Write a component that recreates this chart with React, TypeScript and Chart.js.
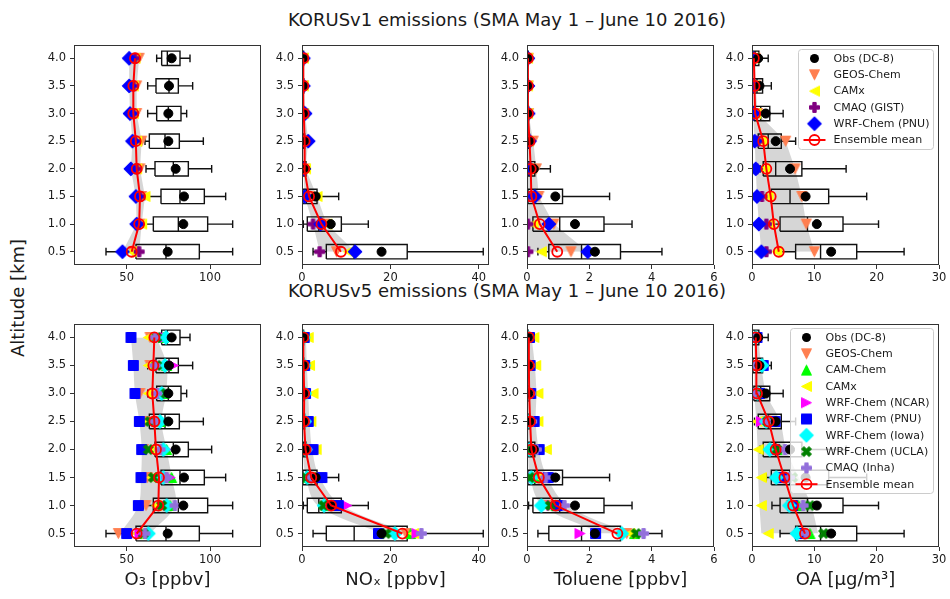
import React, { useEffect, useRef } from "react";
import { Chart, registerables } from "chart.js";

Chart.register(...registerables);

// ---------- altitude bins and tick labels ----------
const ALTITUDES = [0.5, 1.0, 1.5, 2.0, 2.5, 3.0, 3.5, 4.0];
const ALT_TICKS = [0.5, 1.0, 1.5, 2.0, 2.5, 3.0, 3.5, 4.0];
const O3_TICKS = [50, 100];
const NOX_TICKS = [0, 20, 40];
const TOL_TICKS = [0, 2, 4, 6];
const OA_TICKS = [0, 10, 20, 30];

// ---------- DC-8 observations (whisker ends, quartiles, median, mean) ----------
const OBS_O3_MIN = [37.6, 60, 61, 61.6, 61, 62.6, 62.6, 68];
const OBS_O3_Q1 = [55.6, 66, 70.6, 67, 63.6, 68, 67.6, 71];
const OBS_O3_MED = [73.6, 81, 82, 78, 73, 75, 75.4, 74.4];
const OBS_O3_Q3 = [93.6, 98.6, 96.6, 87, 81.6, 82.6, 81, 82];
const OBS_O3_MAX = [113.6, 113.6, 109.4, 101, 96, 86, 89.6, 88];
const OBS_O3_MEAN = [74.6, 84, 84.4, 79.4, 75, 75, 75.4, 77];

const OBS_NOX_MIN = [2.5, 0.3, 0.05, 0.05, 0.03, 0.02, 0.02, 0.02];
const OBS_NOX_Q1 = [5.5, 1.2, 0.2, 0.15, 0.1, 0.08, 0.08, 0.07];
const OBS_NOX_MED = [11.8, 3.8, 1.0, 0.4, 0.3, 0.2, 0.2, 0.15];
const OBS_NOX_Q3 = [23.8, 8.9, 3.4, 0.9, 0.6, 0.45, 0.4, 0.35];
const OBS_NOX_MAX = [41, 15, 8.3, 1.6, 1.2, 0.9, 0.8, 0.7];
const OBS_NOX_MEAN = [18, 6.5, 3.1, 0.75, 0.5, 0.35, 0.3, 0.3];

const OBS_TOL_MIN = [0.35, 0.05, 0.01, 0.005, 0.003, 0.002, 0.002, 0.002];
const OBS_TOL_Q1 = [0.7, 0.19, 0.03, 0.03, 0.01, 0.01, 0.01, 0.01];
const OBS_TOL_MED = [1.75, 1.05, 0.25, 0.1, 0.03, 0.02, 0.02, 0.02];
const OBS_TOL_Q3 = [3.0, 2.47, 1.14, 0.25, 0.08, 0.05, 0.04, 0.04];
const OBS_TOL_MAX = [4.33, 3.37, 2.65, 0.75, 0.2, 0.12, 0.1, 0.08];
const OBS_TOL_MEAN = [2.18, 1.54, 0.91, 0.22, 0.08, 0.04, 0.04, 0.03];

const OBS_OA_MIN = [4.5, 3.2, 2.3, 1.3, 0.4, 0.05, 0.05, 0.03];
const OBS_OA_Q1 = [7.0, 4.5, 3.1, 1.8, 1.0, 0.3, 0.16, 0.05];
const OBS_OA_MED = [11.0, 8.9, 6.1, 3.8, 2.6, 1.4, 0.8, 0.5];
const OBS_OA_Q3 = [16.8, 14.6, 12.3, 8.0, 4.7, 2.85, 1.7, 1.1];
const OBS_OA_MAX = [24.4, 20.3, 18.4, 15.1, 7.0, 5.0, 3.1, 2.6];
const OBS_OA_MEAN = [12.7, 10.4, 8.6, 6.1, 3.8, 2.2, 1.2, 1.0];

// ---------- KORUSv1 model profiles ----------
const V1_O3_GEOS = [54, 58, 59, 58, 59, 56, 56, 57.5];
const V1_O3_CAMX = [53, 59, 61, 56, 56, 54, 54, 55];
const V1_O3_GIST = [57.5, 57, 58, 56, 55, 54, 54, 55];
const V1_O3_PNU = [47.5, 56, 55.5, 52.5, 53.5, 52, 51.5, 51.5];
const V1_O3_ENS = [53, 57.5, 58, 56, 55.5, 54, 54, 55];
const V1_O3_LO = [47.5, 56, 55.5, 52.5, 53.5, 52, 51.5, 51.5];
const V1_O3_HI = [57.5, 59, 61, 58, 59, 56, 56, 57.5];

const V1_NOX_GEOS = [7.8, 5.1, 1.7, 0.6, 0.4, 0.3, 0.3, 0.3];
const V1_NOX_CAMX = [10.5, 5.6, 3.4, 0.8, 0.6, 0.4, 0.3, 0.3];
const V1_NOX_GIST = [4.0, 2.5, 1.2, 0.3, 0.2, 0.1, 0.1, 0.1];
const V1_NOX_PNU = [12.0, 4.2, 0.6, 0.4, 1.4, 0.7, 0.3, 0.3];
const V1_NOX_ENS = [8.8, 4.4, 1.6, 0.5, 0.6, 0.4, 0.3, 0.3];
const V1_NOX_LO = [4.0, 2.5, 0.6, 0.3, 0.2, 0.1, 0.1, 0.1];
const V1_NOX_HI = [12.0, 5.6, 3.4, 0.8, 1.4, 0.7, 0.3, 0.3];

const V1_TOL_GEOS = [1.41, 0.86, 0.38, 0.3, 0.2, 0.05, 0.04, 0.04];
const V1_TOL_CAMX = [0.46, 0.2, 0.09, 0.05, 0.03, 0.02, 0.02, 0.02];
const V1_TOL_GIST = [0.03, 0.03, 0.03, 0.02, 0.02, 0.01, 0.01, 0.01];
const V1_TOL_PNU = [1.95, 0.7, 0.25, 0.1, 0.08, 0.04, 0.03, 0.03];
const V1_TOL_ENS = [0.97, 0.41, 0.14, 0.12, 0.08, 0.03, 0.03, 0.03];
const V1_TOL_LO = [0.03, 0.03, 0.03, 0.02, 0.02, 0.01, 0.01, 0.01];
const V1_TOL_HI = [1.95, 0.86, 0.38, 0.3, 0.2, 0.05, 0.04, 0.04];

const V1_OA_GEOS = [10.0, 8.7, 8.0, 6.9, 5.4, 0.9, 0.6, 0.5];
const V1_OA_CAMX = [4.0, 2.85, 2.6, 2.0, 1.5, 0.6, 0.4, 0.3];
const V1_OA_GIST = [2.3, 2.3, 1.6, 0.7, 1.0, 0.5, 0.3, 0.2];
const V1_OA_PNU = [1.5, 1.1, 0.8, 0.6, 0.43, 0.16, 0.2, 0.15];
const V1_OA_ENS = [4.3, 3.5, 3.0, 2.3, 1.8, 0.5, 0.4, 0.3];
const V1_OA_LO = [1.5, 1.1, 0.8, 0.6, 0.43, 0.16, 0.2, 0.15];
const V1_OA_HI = [10.0, 8.7, 8.0, 6.9, 5.4, 0.9, 0.6, 0.5];

// ---------- KORUSv5 model profiles ----------
const V5_O3_GEOS = [45, 61.6, 62.4, 60, 61, 58, 64, 64];
const V5_O3_CAMCHEM = [59, 76, 77, 74, 70, 72, 74, 72];
const V5_O3_CAMX = [56.4, 68, 65, 64, 63, 63, 63, 63];
const V5_O3_NCAR = [58, 75, 76, 73.6, 70, 72, 78, 73];
const V5_O3_PNU = [50, 57, 58.6, 59, 57.6, 55, 54, 52.6];
const V5_O3_IOWA = [63, 74, 72, 72, 70, 71, 73, 73.6];
const V5_O3_UCLA = [60, 71, 66, 63, 64, 73.6, 68, 68];
const V5_O3_INHA = [61, 79, 74, 70, 67, 68, 67, 67];
const V5_O3_ENS = [56, 69, 69.4, 67.6, 66.6, 65.4, 66, 66.6];
const V5_O3_LO = [46, 57, 58.6, 59, 57.6, 55, 54, 52.6];
const V5_O3_HI = [64, 79, 77, 74, 71, 73.6, 74, 68];

const V5_NOX_GEOS = [23.5, 7.0, 2.5, 1.0, 0.6, 0.5, 0.4, 0.5];
const V5_NOX_CAMCHEM = [24.6, 5.5, 1.5, 0.8, 0.5, 0.4, 0.3, 0.3];
const V5_NOX_CAMX = [25.2, 6.0, 2.0, 3.2, 2.0, 2.5, 1.7, 1.4];
const V5_NOX_NCAR = [26.0, 10.1, 2.5, 1.2, 0.8, 0.6, 0.5, 0.4];
const V5_NOX_PNU = [17.3, 8.2, 4.5, 2.5, 1.4, 0.8, 0.6, 0.5];
const V5_NOX_IOWA = [21.0, 5.0, 1.2, 0.8, 0.6, 0.6, 0.4, 0.3];
const V5_NOX_UCLA = [19.0, 4.9, 0.8, 0.6, 0.4, 0.3, 0.3, 0.3];
const V5_NOX_INHA = [27.0, 6.5, 2.0, 1.0, 0.6, 0.5, 0.4, 0.3];
const V5_NOX_ENS = [22.7, 6.6, 2.1, 0.8, 0.45, 0.5, 0.35, 0.3];
const V5_NOX_LO = [18, 3.6, 0.9, 0.2, 0.1, 0.05, 0.05, 0.05];
const V5_NOX_HI = [24.5, 9, 4, 2.3, 1.7, 1.4, 1.1, 0.9];

const V5_TOL_GEOS = [3.2, 0.7, 0.3, 0.2, 0.1, 0.08, 0.06, 0.05];
const V5_TOL_CAMCHEM = [3.45, 0.95, 0.3, 0.15, 0.1, 0.06, 0.05, 0.04];
const V5_TOL_CAMX = [3.3, 1.0, 0.4, 0.62, 0.35, 0.35, 0.28, 0.22];
const V5_TOL_NCAR = [1.7, 0.8, 0.2, 0.1, 0.05, 0.04, 0.03, 0.03];
const V5_TOL_PNU = [2.2, 1.0, 0.68, 0.39, 0.23, 0.12, 0.1, 0.08];
const V5_TOL_IOWA = [3.04, 0.46, 0.14, 0.08, 0.05, 0.04, 0.03, 0.03];
const V5_TOL_UCLA = [3.5, 0.75, 0.09, 0.06, 0.04, 0.03, 0.02, 0.02];
const V5_TOL_INHA = [3.74, 1.2, 0.6, 0.3, 0.15, 0.1, 0.08, 0.06];
const V5_TOL_ENS = [2.9, 0.92, 0.38, 0.14, 0.1, 0.07, 0.06, 0.06];
const V5_TOL_LO = [2.4, 0.5, 0.1, 0.04, 0.02, 0.02, 0.01, 0.01];
const V5_TOL_HI = [3.3, 1.3, 0.65, 0.38, 0.28, 0.3, 0.25, 0.15];

const V5_OA_GEOS = [8.0, 6.3, 4.5, 3.3, 2.5, 0.7, 0.6, 0.5];
const V5_OA_CAMCHEM = [9.3, 7.5, 5.5, 4.0, 2.8, 1.0, 0.8, 0.6];
const V5_OA_CAMX = [2.6, 1.5, 1.5, 1.0, 0.8, 0.5, 0.4, 0.3];
const V5_OA_NCAR = [8.3, 7.0, 5.0, 4.7, 1.5, 0.6, 0.5, 0.4];
const V5_OA_PNU = [7.7, 6.5, 4.7, 3.6, 3.7, 1.2, 1.8, 0.8];
const V5_OA_IOWA = [7.2, 6.0, 3.9, 2.85, 2.3, 0.9, 1.6, 0.6];
const V5_OA_UCLA = [11.5, 9.3, 6.5, 4.0, 2.5, 0.9, 0.7, 0.6];
const V5_OA_INHA = [8.6, 8.2, 6.0, 5.3, 2.5, 0.4, 0.5, 0.4];
const V5_OA_ENS = [8.5, 6.6, 5.2, 3.8, 2.7, 0.8, 0.7, 0.6];
const V5_OA_LO = [1.5, 1.2, 1.0, 0.9, 0.7, 0.4, 0.4, 0.3];
const V5_OA_HI = [10.6, 9.5, 7.5, 5.5, 4.5, 2.3, 1.5, 1.0];

// ---------- styling ----------
const FONT = "'DejaVu Sans', 'Liberation Sans', sans-serif";
const TEXT = "#1a1a1a";
const AXIS = "#333333";
const RED = "#ff0000";
const BAND = "rgba(128,128,128,0.32)";
const BOX_HALF = 0.13; // km
const CAP_HALF = 0.07; // km
const MARKER = 10; // px

const FRAME_LEFTS = [74, 302, 527, 752];
const FRAME_W = 187;
const ROW_TOPS = [45, 324];
const ROW_HEIGHTS = [220, 223];
const AXIS_W = 52;
const PAD_T = 12;
const PAD_R = 14;
const XAXIS_H = [30, 50];
const Y_MIN = 0.26;
const Y_MAX = 4.24;

type Shape = "v" | "^" | "<" | ">" | "s" | "D" | "P" | "X";

const SHAPES: Record<Shape, number[][]> = {
  v: [[0, 0.5], [-0.5, -0.5], [0.5, -0.5]],
  "^": [[0, -0.5], [-0.5, 0.5], [0.5, 0.5]],
  "<": [[-0.5, 0], [0.5, -0.5], [0.5, 0.5]],
  ">": [[0.5, 0], [-0.5, -0.5], [-0.5, 0.5]],
  s: [[-0.5, -0.5], [0.5, -0.5], [0.5, 0.5], [-0.5, 0.5]],
  D: [[0, -0.707], [0.707, 0], [0, 0.707], [-0.707, 0]],
  P: [[-1, -3], [-1, -1], [-3, -1], [-3, 1], [-1, 1], [-1, 3], [1, 3], [1, 1], [3, 1], [3, -1], [1, -1], [1, -3]].map(
    ([a, b]) => [a / 6, b / 6]
  ),
  X: [[-1, -2], [0, -1], [1, -2], [2, -1], [1, 0], [2, 1], [1, 2], [0, 1], [-1, 2], [-2, 1], [-1, 0], [-2, -1]].map(
    ([a, b]) => [a / 4, b / 4]
  ),
};

const markerCache = new Map<string, HTMLCanvasElement>();
function markerImage(shape: Shape, color: string): HTMLCanvasElement {
  const key = shape + color;
  const hit = markerCache.get(key);
  if (hit) return hit;
  const verts = SHAPES[shape];
  const ext = Math.max(...verts.map(([a, b]) => Math.max(Math.abs(a), Math.abs(b)))) * MARKER;
  const dim = Math.ceil(ext * 2 + 3);
  const c = document.createElement("canvas");
  c.width = dim;
  c.height = dim;
  const g = c.getContext("2d")!;
  g.translate(dim / 2, dim / 2);
  g.beginPath();
  verts.forEach(([a, b], i) => (i ? g.lineTo(a * MARKER, b * MARKER) : g.moveTo(a * MARKER, b * MARKER)));
  g.closePath();
  g.fillStyle = color;
  g.fill();
  g.lineWidth = 1;
  g.strokeStyle = color;
  g.stroke();
  markerCache.set(key, c);
  return c;
}

type Model = { name: string; shape: Shape; color: string; values: number[] };
type Stats = { min: number[]; q1: number[]; med: number[]; q3: number[]; max: number[]; mean: number[] };
type Panel = {
  id: string;
  row: number;
  col: number;
  xMin: number;
  xMax: number;
  xTicks: number[];
  xTitle: string;
  obs: Stats;
  models: Model[];
  ens: number[];
  bandLo: number[];
  bandHi: number[];
  legend: boolean;
};

const OBS_O3: Stats = { min: OBS_O3_MIN, q1: OBS_O3_Q1, med: OBS_O3_MED, q3: OBS_O3_Q3, max: OBS_O3_MAX, mean: OBS_O3_MEAN };
const OBS_NOX: Stats = { min: OBS_NOX_MIN, q1: OBS_NOX_Q1, med: OBS_NOX_MED, q3: OBS_NOX_Q3, max: OBS_NOX_MAX, mean: OBS_NOX_MEAN };
const OBS_TOL: Stats = { min: OBS_TOL_MIN, q1: OBS_TOL_Q1, med: OBS_TOL_MED, q3: OBS_TOL_Q3, max: OBS_TOL_MAX, mean: OBS_TOL_MEAN };
const OBS_OA: Stats = { min: OBS_OA_MIN, q1: OBS_OA_Q1, med: OBS_OA_MED, q3: OBS_OA_Q3, max: OBS_OA_MAX, mean: OBS_OA_MEAN };

const C_GEOS = "#ff7f50";
const C_CAMCHEM = "#00ff00";
const C_CAMX = "#ffff00";
const C_NCAR = "#ff00ff";
const C_PNU = "#0000ff";
const C_IOWA = "#00ffff";
const C_UCLA = "#008000";
const C_INHA = "#9370db";
const C_GIST = "#800080";

function v1Models(geos: number[], camx: number[], gist: number[], pnu: number[]): Model[] {
  return [
    { name: "GEOS-Chem", shape: "v", color: C_GEOS, values: geos },
    { name: "CAMx", shape: "<", color: C_CAMX, values: camx },
    { name: "CMAQ (GIST)", shape: "P", color: C_GIST, values: gist },
    { name: "WRF-Chem (PNU)", shape: "D", color: C_PNU, values: pnu },
  ];
}

function v5Models(
  geos: number[], camchem: number[], camx: number[], ncar: number[],
  pnu: number[], iowa: number[], ucla: number[], inha: number[]
): Model[] {
  return [
    { name: "GEOS-Chem", shape: "v", color: C_GEOS, values: geos },
    { name: "CAM-Chem", shape: "^", color: C_CAMCHEM, values: camchem },
    { name: "CAMx", shape: "<", color: C_CAMX, values: camx },
    { name: "WRF-Chem (NCAR)", shape: ">", color: C_NCAR, values: ncar },
    { name: "WRF-Chem (PNU)", shape: "s", color: C_PNU, values: pnu },
    { name: "WRF-Chem (Iowa)", shape: "D", color: C_IOWA, values: iowa },
    { name: "WRF-Chem (UCLA)", shape: "X", color: C_UCLA, values: ucla },
    { name: "CMAQ (Inha)", shape: "P", color: C_INHA, values: inha },
  ];
}

const PANELS: Panel[] = [
  { id: "v1-o3", row: 0, col: 0, xMin: 18.4, xMax: 130.6, xTicks: O3_TICKS, xTitle: "O₃ [ppbv]", obs: OBS_O3,
    models: v1Models(V1_O3_GEOS, V1_O3_CAMX, V1_O3_GIST, V1_O3_PNU), ens: V1_O3_ENS, bandLo: V1_O3_LO, bandHi: V1_O3_HI, legend: false },
  { id: "v1-nox", row: 0, col: 1, xMin: 0, xMax: 42.3, xTicks: NOX_TICKS, xTitle: "NOₓ [ppbv]", obs: OBS_NOX,
    models: v1Models(V1_NOX_GEOS, V1_NOX_CAMX, V1_NOX_GIST, V1_NOX_PNU), ens: V1_NOX_ENS, bandLo: V1_NOX_LO, bandHi: V1_NOX_HI, legend: false },
  { id: "v1-tol", row: 0, col: 2, xMin: 0, xMax: 6, xTicks: TOL_TICKS, xTitle: "Toluene [ppbv]", obs: OBS_TOL,
    models: v1Models(V1_TOL_GEOS, V1_TOL_CAMX, V1_TOL_GIST, V1_TOL_PNU), ens: V1_TOL_ENS, bandLo: V1_TOL_LO, bandHi: V1_TOL_HI, legend: false },
  { id: "v1-oa", row: 0, col: 3, xMin: 0, xMax: 30, xTicks: OA_TICKS, xTitle: "OA [µg/m³]", obs: OBS_OA,
    models: v1Models(V1_OA_GEOS, V1_OA_CAMX, V1_OA_GIST, V1_OA_PNU), ens: V1_OA_ENS, bandLo: V1_OA_LO, bandHi: V1_OA_HI, legend: true },
  { id: "v5-o3", row: 1, col: 0, xMin: 18.4, xMax: 130.6, xTicks: O3_TICKS, xTitle: "O₃ [ppbv]", obs: OBS_O3,
    models: v5Models(V5_O3_GEOS, V5_O3_CAMCHEM, V5_O3_CAMX, V5_O3_NCAR, V5_O3_PNU, V5_O3_IOWA, V5_O3_UCLA, V5_O3_INHA),
    ens: V5_O3_ENS, bandLo: V5_O3_LO, bandHi: V5_O3_HI, legend: false },
  { id: "v5-nox", row: 1, col: 1, xMin: 0, xMax: 42.3, xTicks: NOX_TICKS, xTitle: "NOₓ [ppbv]", obs: OBS_NOX,
    models: v5Models(V5_NOX_GEOS, V5_NOX_CAMCHEM, V5_NOX_CAMX, V5_NOX_NCAR, V5_NOX_PNU, V5_NOX_IOWA, V5_NOX_UCLA, V5_NOX_INHA),
    ens: V5_NOX_ENS, bandLo: V5_NOX_LO, bandHi: V5_NOX_HI, legend: false },
  { id: "v5-tol", row: 1, col: 2, xMin: 0, xMax: 6, xTicks: TOL_TICKS, xTitle: "Toluene [ppbv]", obs: OBS_TOL,
    models: v5Models(V5_TOL_GEOS, V5_TOL_CAMCHEM, V5_TOL_CAMX, V5_TOL_NCAR, V5_TOL_PNU, V5_TOL_IOWA, V5_TOL_UCLA, V5_TOL_INHA),
    ens: V5_TOL_ENS, bandLo: V5_TOL_LO, bandHi: V5_TOL_HI, legend: false },
  { id: "v5-oa", row: 1, col: 3, xMin: 0, xMax: 30, xTicks: OA_TICKS, xTitle: "OA [µg/m³]", obs: OBS_OA,
    models: v5Models(V5_OA_GEOS, V5_OA_CAMCHEM, V5_OA_CAMX, V5_OA_NCAR, V5_OA_PNU, V5_OA_IOWA, V5_OA_UCLA, V5_OA_INHA),
    ens: V5_OA_ENS, bandLo: V5_OA_LO, bandHi: V5_OA_HI, legend: true },
];

// Box-and-whisker outline as one broken polyline in data units
function boxSegments(s: Stats) {
  const pts: { x: number; y: number }[] = [];
  const gap = () => pts.push({ x: NaN, y: NaN });
  ALTITUDES.forEach((a, i) => {
    const lo = a - BOX_HALF;
    const hi = a + BOX_HALF;
    pts.push({ x: s.q1[i], y: lo }, { x: s.q3[i], y: lo }, { x: s.q3[i], y: hi }, { x: s.q1[i], y: hi }, { x: s.q1[i], y: lo });
    gap();
    pts.push({ x: s.med[i], y: lo }, { x: s.med[i], y: hi });
    gap();
    pts.push({ x: s.min[i], y: a }, { x: s.q1[i], y: a });
    gap();
    pts.push({ x: s.q3[i], y: a }, { x: s.max[i], y: a });
    gap();
    pts.push({ x: s.min[i], y: a - CAP_HALF }, { x: s.min[i], y: a + CAP_HALF });
    gap();
    pts.push({ x: s.max[i], y: a - CAP_HALF }, { x: s.max[i], y: a + CAP_HALF });
    gap();
  });
  return pts;
}

const profile = (vals: number[]) => ALTITUDES.map((a, i) => ({ x: vals[i], y: a }));

const framePlugin = {
  id: "frame",
  afterDatasetsDraw(chart: any) {
    const { ctx, chartArea: a } = chart;
    ctx.save();
    ctx.strokeStyle = AXIS;
    ctx.lineWidth = 1;
    ctx.strokeRect(a.left + 0.5, a.top + 0.5, a.right - a.left - 1, a.bottom - a.top - 1);
    ctx.restore();
  },
};

function legendPlugin(models: Model[]) {
  return {
    id: "panelLegend",
    afterDraw(chart: any) {
      const { ctx, chartArea: a } = chart;
      const labels = ["Obs (DC-8)", ...models.map((m) => m.name), "Ensemble mean"];
      const rowGap = 16.3;
      ctx.save();
      ctx.font = `11px ${FONT}`;
      const textW = Math.max(...labels.map((l) => ctx.measureText(l).width));
      const w = Math.round(textW + 39);
      const h = Math.round(18 + (labels.length - 1) * rowGap);
      const x0 = Math.round(a.right - 6 - w) + 0.5;
      const y0 = Math.round(a.top + 4) + 0.5;
      const r = 3;
      ctx.beginPath();
      ctx.moveTo(x0 + r, y0);
      ctx.arcTo(x0 + w, y0, x0 + w, y0 + h, r);
      ctx.arcTo(x0 + w, y0 + h, x0, y0 + h, r);
      ctx.arcTo(x0, y0 + h, x0, y0, r);
      ctx.arcTo(x0, y0, x0 + w, y0, r);
      ctx.closePath();
      ctx.fillStyle = "rgba(255,255,255,0.8)";
      ctx.fill();
      ctx.strokeStyle = "#cccccc";
      ctx.lineWidth = 1;
      ctx.stroke();
      labels.forEach((label, i) => {
        const cy = y0 + 9 + i * rowGap;
        const mx = x0 + 16;
        if (i === 0) {
          ctx.beginPath();
          ctx.arc(mx, cy, 4.5, 0, Math.PI * 2);
          ctx.fillStyle = "#000";
          ctx.fill();
        } else if (i === labels.length - 1) {
          ctx.beginPath();
          ctx.moveTo(x0 + 5, cy);
          ctx.lineTo(x0 + 27, cy);
          ctx.strokeStyle = RED;
          ctx.lineWidth = 2;
          ctx.stroke();
          ctx.beginPath();
          ctx.arc(mx, cy, 5, 0, Math.PI * 2);
          ctx.lineWidth = 1.8;
          ctx.stroke();
        } else {
          const m = models[i - 1];
          const img = markerImage(m.shape, m.color);
          ctx.drawImage(img, mx - img.width / 2, cy - img.height / 2);
        }
        ctx.fillStyle = TEXT;
        ctx.textBaseline = "middle";
        ctx.textAlign = "left";
        ctx.fillText(label, x0 + 35, cy + 0.5);
      });
      ctx.restore();
    },
  };
}

function makeConfig(p: Panel): any {
  const datasets: any[] = [];
  datasets.push({
    label: "Ensemble mean",
    data: profile(p.ens),
    borderColor: RED,
    borderWidth: 2,
    pointStyle: "circle",
    pointRadius: 5,
    pointBorderWidth: 1.8,
    pointBackgroundColor: "rgba(0,0,0,0)",
    pointBorderColor: RED,
    fill: false,
  });
  datasets.push({
    label: "Obs (DC-8)",
    data: profile(p.obs.mean),
    showLine: false,
    pointStyle: "circle",
    pointRadius: 4.5,
    pointBorderWidth: 1,
    pointBackgroundColor: "#000",
    pointBorderColor: "#000",
  });
  [...p.models].reverse().forEach((m) =>
    datasets.push({
      label: m.name,
      data: profile(m.values),
      showLine: false,
      pointStyle: markerImage(m.shape, m.color),
      pointRadius: 5,
    })
  );
  datasets.push({
    label: "Obs spread",
    data: boxSegments(p.obs),
    borderColor: "#111",
    borderWidth: 1.4,
    pointRadius: 0,
    fill: false,
    spanGaps: false,
  });
  const tension = p.row === 1 ? 0.35 : 0;
  datasets.push({
    label: "Model range low",
    data: profile(p.bandLo),
    borderColor: "rgba(0,0,0,0)",
    borderWidth: 0,
    pointRadius: 0,
    backgroundColor: BAND,
    fill: "+1",
    tension,
  });
  datasets.push({
    label: "Model range high",
    data: profile(p.bandHi),
    borderColor: "rgba(0,0,0,0)",
    borderWidth: 0,
    pointRadius: 0,
    fill: false,
    tension,
  });

  const tickFont = { family: FONT, size: 11.5 };
  const grid = { drawOnChartArea: false, drawTicks: true, tickLength: 4, tickColor: AXIS, tickWidth: 1 };

  return {
    type: "line",
    data: { datasets },
    options: {
      animation: false,
      responsive: false,
      indexAxis: "y",
      events: [],
      layout: { padding: { left: 0, top: PAD_T, right: PAD_R, bottom: 0 } },
      plugins: { legend: { display: false }, tooltip: { enabled: false }, colors: { enabled: false } },
      scales: {
        x: {
          type: "linear",
          position: "bottom",
          min: p.xMin,
          max: p.xMax,
          afterBuildTicks: (s: any) => {
            s.ticks = p.xTicks.map((v) => ({ value: v }));
          },
          afterFit: (s: any) => {
            s.height = XAXIS_H[p.row];
          },
          grid,
          border: { display: false },
          ticks: {
            autoSkip: false,
            maxRotation: 0,
            padding: 2,
            color: TEXT,
            font: tickFont,
            callback: (v: any) => String(v),
          },
          title: {
            display: p.row === 1,
            text: p.xTitle,
            color: TEXT,
            font: { family: FONT, size: 18 },
            padding: { top: 0, bottom: 6 },
          },
        },
        y: {
          type: "linear",
          position: "left",
          min: Y_MIN,
          max: Y_MAX,
          afterBuildTicks: (s: any) => {
            s.ticks = ALT_TICKS.map((v) => ({ value: v }));
          },
          afterFit: (s: any) => {
            s.width = AXIS_W;
          },
          grid,
          border: { display: false },
          ticks: {
            autoSkip: false,
            padding: 4,
            color: TEXT,
            font: tickFont,
            callback: (v: any) => Number(v).toFixed(1),
          },
        },
      },
    },
    plugins: p.legend ? [framePlugin, legendPlugin(p.models)] : [framePlugin],
  };
}

function ProfilePanel({ panel }: { panel: Panel }) {
  const ref = useRef<HTMLCanvasElement>(null);
  const left = FRAME_LEFTS[panel.col] - AXIS_W;
  const top = ROW_TOPS[panel.row] - PAD_T;
  const width = AXIS_W + FRAME_W + PAD_R;
  const height = PAD_T + ROW_HEIGHTS[panel.row] + XAXIS_H[panel.row];
  useEffect(() => {
    const chart = new Chart(ref.current!, makeConfig(panel));
    return () => chart.destroy();
  }, [panel]);
  return (
    <canvas
      ref={ref}
      width={width}
      height={height}
      style={{ position: "absolute", left, top, width, height }}
    />
  );
}

const ROW_TITLES = [
  "KORUSv1 emissions (SMA May 1 – June 10 2016)",
  "KORUSv5 emissions (SMA May 1 – June 10 2016)",
];
const ROW_TITLE_Y = [20, 291];

export default function App() {
  return (
    <div
      style={{
        position: "absolute",
        left: 0,
        top: 0,
        width: 950,
        height: 599,
        background: "#fff",
        fontFamily: FONT,
        color: TEXT,
        overflow: "hidden",
      }}
    >
      {ROW_TITLES.map((t, i) => (
        <div
          key={t}
          style={{
            position: "absolute",
            left: 207,
            width: 600,
            top: ROW_TITLE_Y[i] - 10.6,
            textAlign: "center",
            fontSize: 18,
            lineHeight: "22px",
            whiteSpace: "nowrap",
          }}
        >
          {t}
        </div>
      ))}
      <div
        style={{
          position: "absolute",
          left: 18 - 70,
          width: 140,
          top: 298 - 11,
          textAlign: "center",
          fontSize: 18,
          lineHeight: "22px",
          transform: "rotate(-90deg)",
          whiteSpace: "nowrap",
        }}
      >
        Altitude [km]
      </div>
      {PANELS.map((p) => (
        <ProfilePanel key={p.id} panel={p} />
      ))}
    </div>
  );
}
